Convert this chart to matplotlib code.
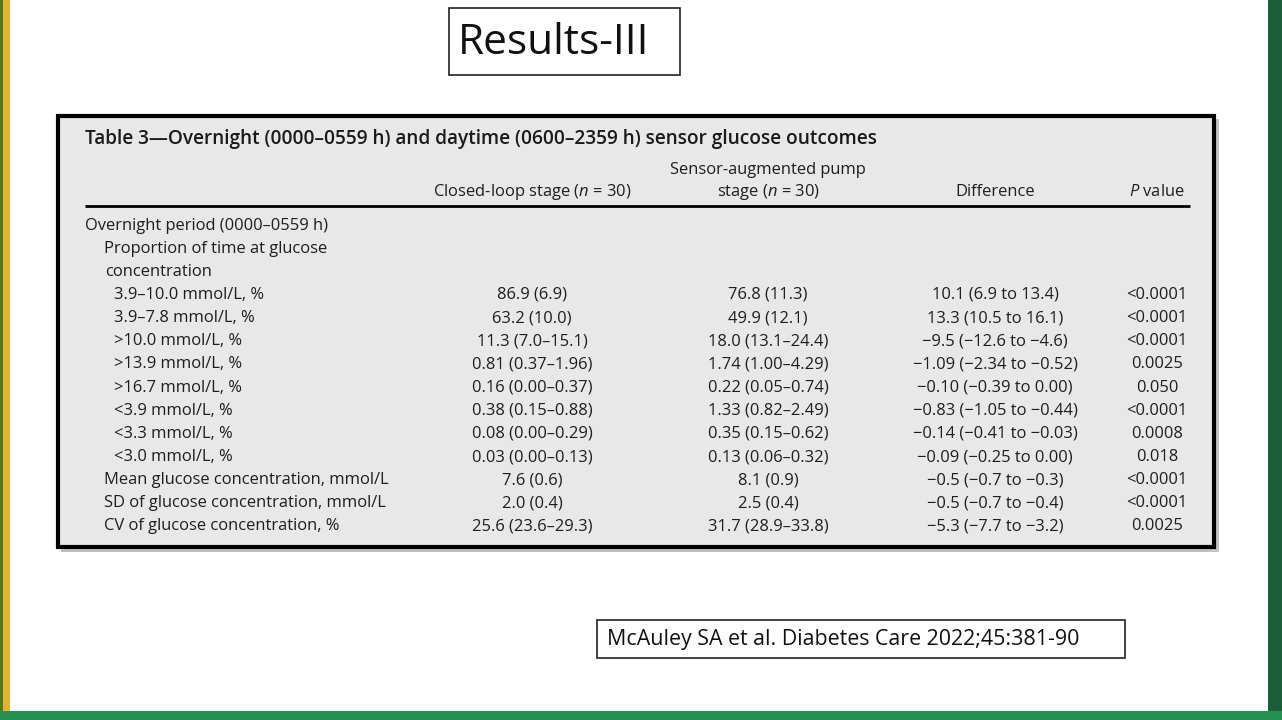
import matplotlib
matplotlib.use("Agg")
import matplotlib.pyplot as plt
from matplotlib.patches import Rectangle

plt.rcParams['font.family'] = ['Open Sans', 'DejaVu Sans']
plt.rcParams['mathtext.fontset'] = 'custom'
plt.rcParams['mathtext.rm'] = 'Open Sans'
plt.rcParams['mathtext.it'] = 'Open Sans:italic'

slide_title = "Results-III"
table_title = "Table 3\u2014Overnight (0000\u20130559 h) and daytime (0600\u20132359 h) sensor glucose outcomes"
col_headers = ["Closed-loop stage ($n$ = 30)",
               "Sensor-augmented pump\nstage ($n$ = 30)",
               "Difference",
               "$P$ value"]
row_labels = ["Overnight period (0000\u20130559 h)",
              "Proportion of time at glucose",
              "concentration",
              "3.9\u201310.0 mmol/L, %",
              "3.9\u20137.8 mmol/L, %",
              ">10.0 mmol/L, %",
              ">13.9 mmol/L, %",
              ">16.7 mmol/L, %",
              "<3.9 mmol/L, %",
              "<3.3 mmol/L, %",
              "<3.0 mmol/L, %",
              "Mean glucose concentration, mmol/L",
              "SD of glucose concentration, mmol/L",
              "CV of glucose concentration, %"]
row_indent = [0, 1, 1.5, 2, 2, 2, 2, 2, 2, 2, 2, 1, 1, 1]
closed_loop = ["", "", "",
               "86.9 (6.9)", "63.2 (10.0)", "11.3 (7.0\u201315.1)",
               "0.81 (0.37\u20131.96)", "0.16 (0.00\u20130.37)", "0.38 (0.15\u20130.88)",
               "0.08 (0.00\u20130.29)", "0.03 (0.00\u20130.13)",
               "7.6 (0.6)", "2.0 (0.4)", "25.6 (23.6\u201329.3)"]
sap = ["", "", "",
       "76.8 (11.3)", "49.9 (12.1)", "18.0 (13.1\u201324.4)",
       "1.74 (1.00\u20134.29)", "0.22 (0.05\u20130.74)", "1.33 (0.82\u20132.49)",
       "0.35 (0.15\u20130.62)", "0.13 (0.06\u20130.32)",
       "8.1 (0.9)", "2.5 (0.4)", "31.7 (28.9\u201333.8)"]
difference = ["", "", "",
              "10.1 (6.9 to 13.4)", "13.3 (10.5 to 16.1)", "\u22129.5 (\u221212.6 to \u22124.6)",
              "\u22121.09 (\u22122.34 to \u22120.52)", "\u22120.10 (\u22120.39 to 0.00)",
              "\u22120.83 (\u22121.05 to \u22120.44)", "\u22120.14 (\u22120.41 to \u22120.03)",
              "\u22120.09 (\u22120.25 to 0.00)", "\u22120.5 (\u22120.7 to \u22120.3)",
              "\u22120.5 (\u22120.7 to \u22120.4)", "\u22125.3 (\u22127.7 to \u22123.2)"]
p_values = ["", "", "",
            "<0.0001", "<0.0001", "<0.0001", "0.0025", "0.050", "<0.0001",
            "0.0008", "0.018", "<0.0001", "<0.0001", "0.0025"]
citation = "McAuley SA et al. Diabetes Care 2022;45:381-90"

W, H = 1282, 720
fig = plt.figure(figsize=(W / 100, H / 100), dpi=100)
ax = fig.add_axes([0, 0, 1, 1])
ax.set_xlim(0, W)
ax.set_ylim(H, 0)
ax.axis('off')

# slide decoration
ax.add_patch(Rectangle((0, 0), W, H, facecolor='white', edgecolor='none'))
ax.add_patch(Rectangle((0, 0), 3, H, facecolor='#4a7a2a', edgecolor='none'))
ax.add_patch(Rectangle((3, 0), 7, H, facecolor='#e9b229', edgecolor='none'))
ax.add_patch(Rectangle((1268, 0), 14, H, facecolor='#1c5e38', edgecolor='none'))
ax.add_patch(Rectangle((0, 711), W, 9, facecolor='#259152', edgecolor='none'))

# slide title
ax.add_patch(Rectangle((449, 8), 231, 67, facecolor='white', edgecolor='#222222', lw=1.2))
ax.text(458, 43, slide_title, fontsize=30.5, va='center', ha='left', color='#111111')

# table box with shadow
ax.add_patch(Rectangle((61, 119), 1158, 433, facecolor='#9a9a9a', edgecolor='none', alpha=0.6))
ax.add_patch(Rectangle((58, 116), 1156, 431, facecolor='#e8e8e8', edgecolor='black', lw=3.0))

ax.text(85, 139, table_title, fontsize=13.7, fontweight='semibold', va='center', ha='left',
        color='#1a1a1a')

col_x = [532, 768, 995, 1157]
fs = 11.9
txt_color = '#1e1e1e'
for i, h in enumerate(col_headers):
    lines = h.split("\n")
    for k, line in enumerate(reversed(lines)):
        ax.text(col_x[i], 192 - 21.5 * k, line, fontsize=fs, va='center', ha='center',
                color=txt_color)
ax.plot([85, 1190], [206, 206], color='black', lw=2.0, solid_capstyle='butt')

row_y0, row_dy = 225.5, 23.15
indent_px = {0: 85, 1: 104, 1.5: 105, 2: 114}
for r, lab in enumerate(row_labels):
    y = row_y0 + r * row_dy
    ax.text(indent_px[row_indent[r]], y, lab, fontsize=fs, va='center', ha='left', color=txt_color)
    for c, col in enumerate([closed_loop, sap, difference, p_values]):
        if col[r]:
            ax.text(col_x[c], y, col[r], fontsize=fs, va='center', ha='center', color=txt_color)

# citation
ax.add_patch(Rectangle((597, 620), 528, 38, facecolor='white', edgecolor='#222222', lw=1.2))
ax.text(607, 639, citation, fontsize=15.4, va='center', ha='left', color='#111111')

fig.savefig('out.png', dpi=100)
